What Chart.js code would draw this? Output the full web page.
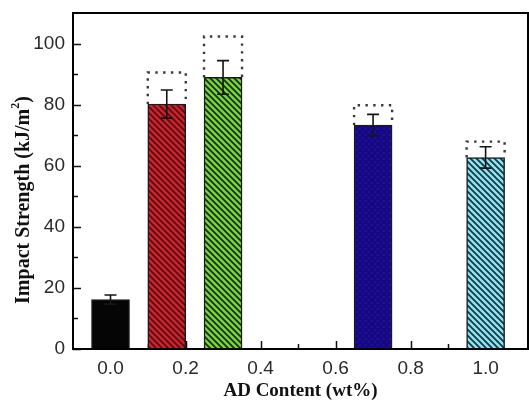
<!DOCTYPE html>
<html>
<head>
<meta charset="utf-8">
<title>Impact Strength vs AD Content</title>
<script src="https://cdn.jsdelivr.net/npm/chart.js@4.4.1/dist/chart.umd.min.js"></script>
<style>
  html, body { margin: 0; padding: 0; background: #fff; }
  #wrap { width: 529px; height: 401px; }
</style>
</head>
<body>
<div id="wrap"><canvas id="impactChart" width="529" height="401"></canvas></div>
<script>
// AD content (wt%) of each sample and its notched impact strength (kJ/m2)
const adContent = [0.0, 0.15, 0.3, 0.7, 1.0];
const impactStrength = [16.2, 80.2, 88.9, 73.3, 62.7];
const errorSize = [1.5, 4.6, 5.5, 3.5, 3.5];
// upper level shown by the dotted outline above each modified sample
const dottedLevel = [null, 90.5, 102.3, 79.8, 67.9];

const xTickValues = [0.0, 0.2, 0.4, 0.6, 0.8, 1.0];
const yTickValues = [0, 20, 40, 60, 80, 100];

const canvas = document.getElementById('impactChart');
const ctx = canvas.getContext('2d');

// diagonal hatch fill ("\\\" direction), optionally cross-hatched
function hatch(bg, fg, cross) {
    const s = 6;
    const tile = document.createElement('canvas');
    tile.width = s;
    tile.height = s;
    const g = tile.getContext('2d');
    g.fillStyle = bg;
    g.fillRect(0, 0, s, s);
    g.strokeStyle = fg;
    g.lineWidth = 1.8;
    g.beginPath();
    g.moveTo(-1, -1); g.lineTo(s + 1, s + 1);
    g.moveTo(-1, s - 1); g.lineTo(1, s + 1);
    g.moveTo(s - 1, -1); g.lineTo(s + 1, 1);
    if (cross) {
        g.moveTo(s + 1, -1); g.lineTo(-1, s + 1);
        g.moveTo(1, -1); g.lineTo(-1, 1);
        g.moveTo(s + 1, s - 1); g.lineTo(s - 1, s + 1);
    }
    g.stroke();
    return ctx.createPattern(tile, 'repeat');
}

const barFills = [
    '#050505',
    hatch('#c8252c', '#5c0b12', false),
    hatch('#7fd23e', '#0d350d', false),
    hatch('#1f0fa0', '#15087a', true),
    hatch('#92e2ef', '#0b3c46', false)
];

// inward major/minor ticks, drawn under the bars
const innerTicks = {
    id: 'innerTicks',
    beforeDatasetsDraw(chart) {
        const { ctx, chartArea, scales: { x, y } } = chart;
        ctx.save();
        ctx.strokeStyle = '#111';
        ctx.lineWidth = 1.5;
        ctx.beginPath();
        yTickValues.forEach((v, i) => {
            const py = Math.round(y.getPixelForValue(v)) + 0.5;
            ctx.moveTo(chartArea.left, py); ctx.lineTo(chartArea.left + 8, py);
            if (i < yTickValues.length - 1) {
                const pm = Math.round(y.getPixelForValue(v + 10)) + 0.5;
                ctx.moveTo(chartArea.left, pm); ctx.lineTo(chartArea.left + 5, pm);
            }
        });
        xTickValues.forEach((v, i) => {
            const px = Math.round(x.getPixelForValue(v)) + 0.5;
            ctx.moveTo(px, chartArea.bottom); ctx.lineTo(px, chartArea.bottom - 8);
            if (i < xTickValues.length - 1) {
                const pm = Math.round(x.getPixelForValue(v + 0.1)) + 0.5;
                ctx.moveTo(pm, chartArea.bottom); ctx.lineTo(pm, chartArea.bottom - 5);
            }
        });
        ctx.stroke();
        ctx.restore();
    }
};

// dotted outlines, error bars and the closed frame on top of the bars
const overlays = {
    id: 'overlays',
    afterDatasetsDraw(chart) {
        const { ctx, chartArea, scales: { y } } = chart;
        const meta = chart.getDatasetMeta(0);
        ctx.save();

        ctx.strokeStyle = '#3a3a3a';
        ctx.lineWidth = 2.4;
        ctx.setLineDash([2.4, 5.4]);
        dottedLevel.forEach((level, i) => {
            if (level === null) return;
            const bar = meta.data[i].getProps(['x', 'width'], true);
            const left = bar.x - bar.width / 2;
            const right = bar.x + bar.width / 2;
            const top = y.getPixelForValue(level);
            const base = y.getPixelForValue(impactStrength[i]);
            ctx.beginPath();
            ctx.moveTo(left, base); ctx.lineTo(left, top);
            ctx.lineTo(right, top); ctx.lineTo(right, base);
            ctx.stroke();
        });
        ctx.setLineDash([]);

        ctx.strokeStyle = '#151515';
        ctx.lineWidth = 1.6;
        impactStrength.forEach((v, i) => {
            const px = meta.data[i].x;
            const hi = y.getPixelForValue(v + errorSize[i]);
            const lo = y.getPixelForValue(v - errorSize[i]);
            ctx.beginPath();
            ctx.moveTo(px, hi); ctx.lineTo(px, lo);
            ctx.moveTo(px - 6, hi); ctx.lineTo(px + 6, hi);
            ctx.moveTo(px - 6, lo); ctx.lineTo(px + 6, lo);
            ctx.stroke();
        });

        ctx.strokeStyle = '#000';
        ctx.lineWidth = 2;
        ctx.strokeRect(chartArea.left, chartArea.top, chartArea.right - chartArea.left, chartArea.bottom - chartArea.top);
        ctx.restore();
    }
};

// y-axis title with a raised "2" in the unit
const yTitle = {
    id: 'yTitle',
    afterDraw(chart) {
        const { ctx } = chart;
        const serif = '"Liberation Serif", "Times New Roman", serif';
        const main = 'Impact Strength (kJ/m';
        ctx.save();
        ctx.translate(24, 200);
        ctx.rotate(-Math.PI / 2);
        ctx.fillStyle = '#111';
        ctx.textBaseline = 'middle';
        ctx.font = 'bold 20px ' + serif;
        const wMain = ctx.measureText(main).width;
        const wParen = ctx.measureText(')').width;
        ctx.font = 'bold 12px ' + serif;
        const wSup = ctx.measureText('2').width;
        let x0 = -(wMain + wSup + wParen) / 2;
        ctx.font = 'bold 20px ' + serif;
        ctx.fillText(main, x0, 0);
        ctx.font = 'bold 12px ' + serif;
        ctx.fillText('2', x0 + wMain, -8);
        ctx.font = 'bold 20px ' + serif;
        ctx.fillText(')', x0 + wMain + wSup, 0);
        ctx.restore();
    }
};

const tickFont = { family: '"Liberation Sans", Arial, sans-serif', size: 19 };
const titleFont = { family: '"Liberation Serif", "Times New Roman", serif', size: 19, weight: 'bold', lineHeight: 1 };

new Chart(ctx, {
    type: 'bar',
    data: {
        datasets: [{
            label: 'Impact Strength',
            data: adContent.map((c, i) => ({ x: c, y: impactStrength[i] })),
            backgroundColor: barFills,
            borderColor: '#1a1a1a',
            borderWidth: 1.5,
            borderSkipped: 'start',
            barThickness: 38
        }]
    },
    options: {
        responsive: false,
        animation: false,
        layout: { padding: { top: 13, right: 1, left: 0, bottom: 0 } },
        plugins: {
            legend: { display: false },
            tooltip: { enabled: false }
        },
        scales: {
            x: {
                type: 'linear',
                offset: false,
                min: -0.1,
                max: 1.113,
                afterBuildTicks: (axis) => { axis.ticks = xTickValues.map(v => ({ value: v })); },
                afterFit: (axis) => {
                    axis.height = 52;
                    axis.paddingLeft = 0;
                    axis.paddingRight = 0;
                },
                grid: { display: true, offset: false, drawOnChartArea: false, drawTicks: false },
                border: { display: true, color: '#000', width: 2 },
                ticks: {
                    font: tickFont,
                    color: '#2a2a2a',
                    padding: 8,
                    maxRotation: 0,
                    callback: (v) => v.toFixed(1)
                },
                title: {
                    display: true,
                    text: 'AD Content (wt%)',
                    font: titleFont,
                    color: '#111',
                    padding: { top: 0, bottom: 0 }
                }
            },
            y: {
                min: 0,
                max: 110,
                afterBuildTicks: (axis) => { axis.ticks = yTickValues.map(v => ({ value: v })); },
                afterFit: (axis) => {
                    axis.width = 73;
                    axis.paddingTop = 0;
                    axis.paddingBottom = 0;
                },
                grid: { display: true, drawOnChartArea: false, drawTicks: false },
                border: { display: true, color: '#000', width: 2 },
                ticks: {
                    font: tickFont,
                    color: '#2a2a2a',
                    padding: 8
                },
                title: { display: false }
            }
        }
    },
    plugins: [innerTicks, overlays, yTitle]
});
</script>
</body>
</html>
